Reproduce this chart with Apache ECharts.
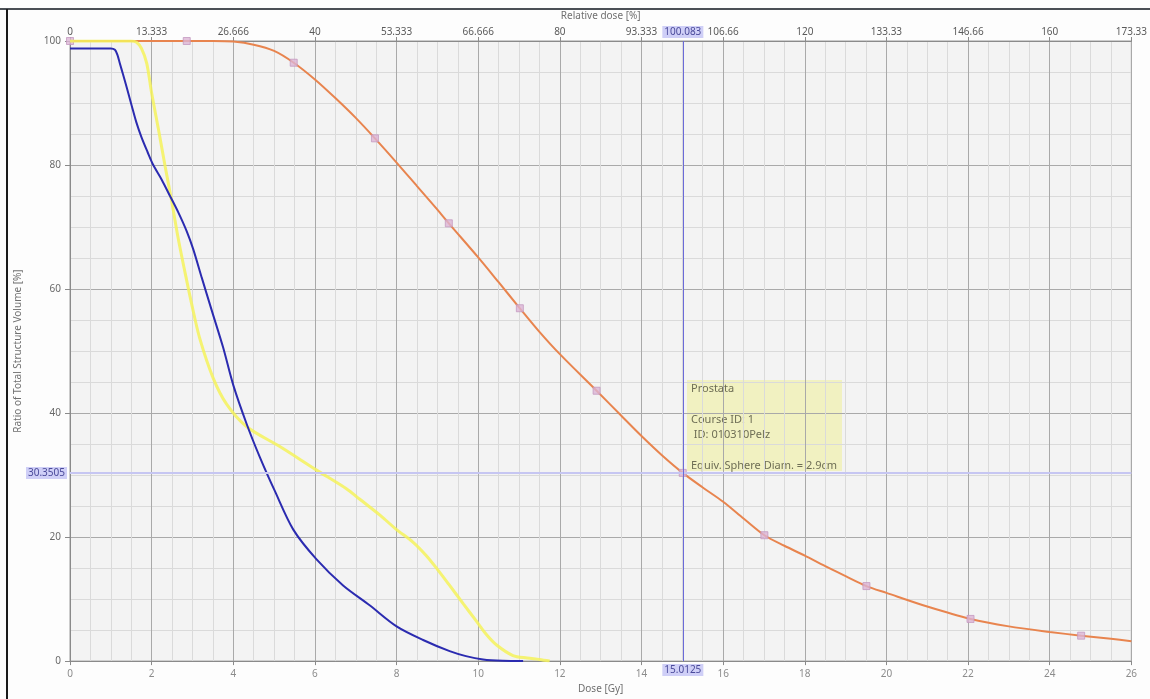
<!DOCTYPE html>
<html>
<head>
<meta charset="utf-8">
<script src="https://cdn.jsdelivr.net/npm/echarts@6/dist/echarts.min.js"></script>
<style>
html,body{margin:0;padding:0;background:#fdfdfd;}
#chart{width:1150px;height:699px;}
</style>
</head>
<body>
<div id="chart"></div>
<script>
// ---- data (Dose [Gy], Ratio of Total Structure Volume [%]) ----
var orangeCurve = [[0,100],[1,100],[2,100],[2.86,100],[3.5,100],[4,99.9],[4.5,99.4],[5,98.4],[5.48,96.5],[6,93.8],[6.5,90.8],[7,87.6],[7.47,84.3],[8,80.4],[8.5,76.6],[9,72.8],[9.28,70.6],[10,65.1],[10.5,61.1],[11.02,56.9],[11.5,53.1],[12,49.5],[12.9,43.6],[13.5,39.6],[14,36.3],[14.5,33.2],[15.01,30.35],[15.5,28.0],[16,25.7],[16.5,23.0],[17.01,20.3],[17.5,18.6],[18,17.0],[18.5,15.3],[19,13.7],[19.51,12.1],[20,11.0],[21,8.8],[22.06,6.8],[23,5.6],[24,4.7],[24.77,4.1],[25.5,3.6],[26,3.2]];
var orangeMarkers = [[0,100],[2.86,100],[5.48,96.5],[7.47,84.3],[9.28,70.6],[11.02,56.9],[12.9,43.6],[15.01,30.35],[17.01,20.3],[19.51,12.1],[22.06,6.8],[24.77,4.1]];
var yellowCurve = [[0,100],[1,100],[1.5,100],[1.63,99.8],[1.75,98.8],[1.88,96.4],[2.0,91.6],[2.16,86.0],[2.33,79.8],[2.49,74.2],[2.65,68.2],[2.82,62.6],[2.98,57.6],[3.18,52.0],[3.51,45.6],[3.84,41.4],[4.33,37.8],[5.14,34.6],[6.04,30.8],[6.77,27.8],[7.1,26.1],[7.6,23.5],[8.0,21.2],[8.4,19.2],[8.73,17.0],[9.0,14.8],[9.3,12.2],[9.64,9.2],[9.96,6.4],[10.2,4.3],[10.45,2.6],[10.85,0.9],[11.2,0.5],[11.5,0.27],[11.75,0]];
var blueCurve = [[0,98.8],[0.5,98.8],[1.0,98.8],[1.1,98.6],[1.16,97.8],[1.22,96.4],[1.3,94.6],[1.39,92.5],[1.51,89.6],[1.62,87.0],[1.75,84.5],[1.9,82.1],[2.04,80.0],[2.25,77.6],[2.45,75.0],[2.65,72.4],[2.86,69.3],[3.02,66.4],[3.22,62.0],[3.47,56.6],[3.75,50.6],[4.0,44.5],[4.33,38.2],[4.65,32.9],[5.02,27.4],[5.47,21.2],[6.04,16.4],[6.69,12.2],[7.34,9.0],[8.0,5.6],[8.65,3.4],[9.3,1.6],[9.7,0.8],[10.12,0.27],[10.6,0.05],[11.1,0]];
var bottomTickLabels = ['0','2','4','6','8','10','12','14','16','18','20','22','24','26'];
var topTickLabels = ['0','13.333','26.666','40','53.333','66.666','80','93.333','106.66','120','133.33','146.66','160','173.33'];
var crossDose = 15.0125;
var crossVolume = 30.3505;
var crossRelative = '100.083';
var infoLines = ['Prostata','','Course ID: 1',' ID: 010310Pelz','','Equiv. Sphere Diam. = 2.9cm'];

var chart = echarts.init(document.getElementById('chart'));
var labelFont = 'Noto Sans';
function xAxisCommon(pos, labels, color) {
  return {
    type: 'value', position: pos, min: 0, max: 26, interval: 2,
    axisLine: {show: true, lineStyle: {color: '#8a8a8a'}},
    axisTick: {show: true, length: 4, lineStyle: {color: '#8a8a8a'}},
    axisLabel: {
      margin: pos === 'top' ? 4 : 8, fontSize: 10, color: color, fontFamily: labelFont,
      formatter: function (v) { var i = Math.round(v / 2); return labels[i] !== undefined ? labels[i] : ''; }
    },
    splitLine: {show: pos !== 'top', lineStyle: {color: '#a9a9a9', width: 1}},
    minorTick: {show: pos !== 'top', splitNumber: 4, length: 0},
    minorSplitLine: {show: pos !== 'top', lineStyle: {color: '#dadada', width: 1}}
  };
}
var xBottom = xAxisCommon('bottom', bottomTickLabels, '#8c8c8c');
xBottom.name = 'Dose [Gy]';
xBottom.nameLocation = 'middle';
xBottom.nameGap = 20;
xBottom.nameTextStyle = {fontSize: 10, color: '#707070', fontFamily: labelFont};
var xTop = xAxisCommon('top', topTickLabels, '#5a5a5a');
xTop.name = 'Relative dose [%]';
xTop.nameLocation = 'middle';
xTop.nameGap = 20;
xTop.nameTextStyle = {fontSize: 10, color: '#707070', fontFamily: labelFont};

var option = {
  backgroundColor: '#fdfdfd',
  animation: false,
  grid: {left: 70, right: 18, top: 41, bottom: 29, show: true, backgroundColor: '#f3f3f3', borderColor: '#9a9a9a', borderWidth: 1},
  xAxis: [xBottom, xTop],
  yAxis: {
    type: 'value', min: 0, max: 100, interval: 20,
    name: 'Ratio of Total Structure Volume [%]', nameLocation: 'middle', nameGap: 47,
    nameTextStyle: {fontSize: 10, color: '#707070', fontFamily: labelFont},
    axisLine: {show: true, lineStyle: {color: '#8a8a8a'}},
    axisTick: {show: true, length: 5, lineStyle: {color: '#8a8a8a'}},
    axisLabel: {margin: 9, fontSize: 10, color: '#6a6a6a', fontFamily: labelFont},
    splitLine: {show: true, lineStyle: {color: '#a9a9a9'}},
    minorTick: {show: true, splitNumber: 4, length: 0},
    minorSplitLine: {show: true, lineStyle: {color: '#dadada'}}
  },
  series: [
    {
      name: 'orange', type: 'line', data: orangeCurve, smooth: 0.3, showSymbol: false,
      lineStyle: {color: '#e8844e', width: 2}, z: 2,
      markLine: {
        silent: true, symbol: 'none', z: 10,
        data: [
          [{coord: [0, crossVolume]}, {coord: [26, crossVolume]}],
          [{coord: [crossDose, 0], label: {position: 'start', formatter: String(crossDose)}}, {coord: [crossDose, 100]}],
          [{coord: [crossDose, 0], label: {position: 'end', formatter: crossRelative}}, {coord: [crossDose, 100]}]
        ],
        label: {
          show: true, fontSize: 10, fontFamily: labelFont, color: '#4a4a9a',
          backgroundColor: '#cfcff7', padding: [1, 2], distance: 3
        },
        lineStyle: {type: 'solid'}
      }
    },
    {
      name: 'markers', type: 'scatter', data: orangeMarkers, symbol: 'rect', symbolSize: 7,
      itemStyle: {color: '#dcb4d4', borderColor: '#c49ac0', borderWidth: 1}, z: 3
    },
    {
      name: 'yellow', type: 'line', data: yellowCurve, smooth: 0.3, showSymbol: false,
      lineStyle: {color: '#f4f25a', width: 3, opacity: 0.85}, z: 4
    },
    {
      name: 'blue', type: 'line', data: blueCurve, smooth: 0.3, showSymbol: false,
      lineStyle: {color: '#2b2bb0', width: 2}, z: 5
    }
  ],
  graphic: [
    {type: 'line', shape: {x1: 0, y1: 9, x2: 1150, y2: 9}, style: {stroke: '#4a4f55', lineWidth: 2}, z: 100},
    {type: 'line', shape: {x1: 7, y1: 9, x2: 7, y2: 699}, style: {stroke: '#1a1a1a', lineWidth: 2}, z: 100},
    {
      type: 'group', left: 687, top: 380, z: 100,
      children: [
        {type: 'rect', shape: {x: 0, y: 0, width: 155, height: 91}, style: {fill: 'rgba(240,240,160,0.6)'}},
        {type: 'text', x: 4, y: 1, style: {text: infoLines.join('\n'), fontSize: 11, lineHeight: 15.5, fill: '#6e6e55', fontFamily: labelFont}}
      ]
    }
  ]
};
// colour the individual cross-hair lines
option.series[0].markLine.data[0][0].lineStyle = {color: '#c6c6f2', width: 2};
option.series[0].markLine.data[0][0].label = {position: 'start', formatter: String(crossVolume)};
option.series[0].markLine.data[1][0].lineStyle = {color: '#6a6ad8', width: 1};
option.series[0].markLine.data[2][0].lineStyle = {color: '#6a6ad8', width: 1};
chart.setOption(option);
</script>
</body>
</html>
